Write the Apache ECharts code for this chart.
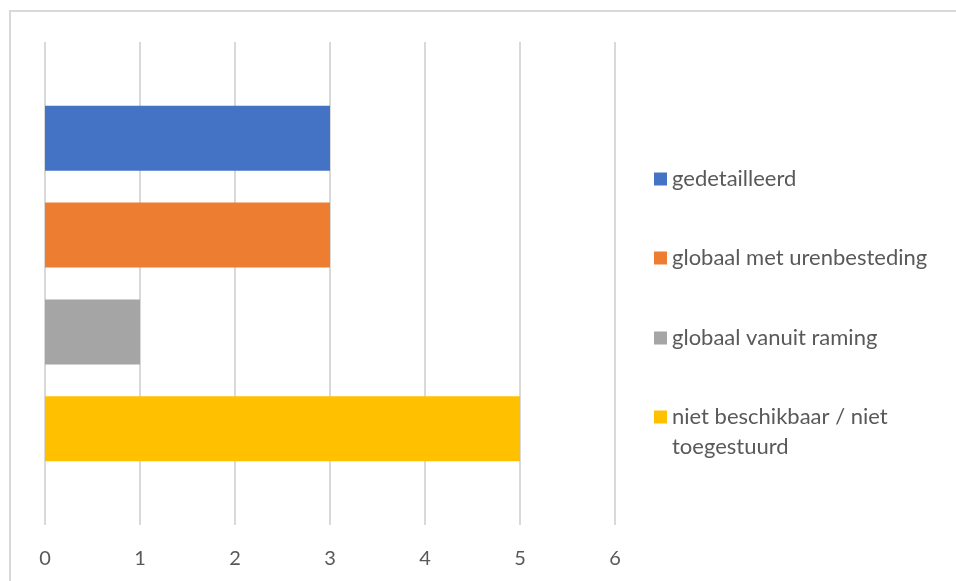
<!DOCTYPE html>
<html>
<head>
<meta charset="utf-8">
<script src="https://cdn.jsdelivr.net/npm/echarts@6/dist/echarts.min.js"></script>
<style>
  html, body { margin: 0; padding: 0; background: #ffffff; }
  #chart { width: 956px; height: 581px; }
</style>
</head>
<body>
<div id="chart"></div>
<script>
// Verdeling van de aangeleverde urenverantwoording (aantal)
const categories = ['gedetailleerd', 'globaal met urenbesteding', 'globaal vanuit raming', 'niet beschikbaar / niet toegestuurd'];
const values = [3, 3, 1, 5];
const colors = ['#4472C4', '#ED7D31', '#A5A5A5', '#FFC000'];
const xTicks = [0, 1, 2, 3, 4, 5, 6];

const FONT = 'Lato';
const TEXT_GREY = '#595959';
const GRID_GREY = '#d9d9d9';

// one legend block per series so each entry sits on its own row
const legendCentres = [179, 258, 338, 417];

const chart = echarts.init(document.getElementById('chart'));

const series = categories.map((name, i) => ({
  type: 'bar',
  name: name,
  data: [values[i]],
  barWidth: 65,
  barGap: '49%',
  itemStyle: { color: colors[i] },
  emphasis: { disabled: true }
}));

// the long label wraps; a leading blank line keeps its first line level with the swatch
const wrapLabel = n => n === 'niet beschikbaar / niet toegestuurd' ? '\nniet beschikbaar / niet\ntoegestuurd' : n;

const legends = categories.map((name, i) => {
  const wrapped = i === 3;
  return {
    data: [name],
    orient: 'vertical',
    left: 654,
    top: wrapped ? legendCentres[i] - 45 : legendCentres[i] - 15,
    padding: 0,
    icon: 'rect',
    itemWidth: 13,
    itemHeight: 13,
    selectedMode: false,
    formatter: wrapLabel,
    textStyle: {
      fontFamily: FONT,
      fontSize: 22,
      color: TEXT_GREY,
      lineHeight: 30
    }
  };
});

chart.setOption({
  backgroundColor: '#ffffff',
  animation: false,
  graphic: [{
    type: 'rect',
    z: -10,
    shape: { x: 10, y: 11, width: 1200, height: 800 },
    style: { fill: 'none', stroke: GRID_GREY, lineWidth: 2 }
  }],
  legend: legends,
  grid: { left: 45, right: 341, top: 42, bottom: 56, containLabel: false },
  xAxis: {
    type: 'value',
    min: xTicks[0],
    max: xTicks[xTicks.length - 1],
    interval: 1,
    axisLine: { show: false },
    axisTick: { show: false },
    splitLine: { show: true, lineStyle: { color: GRID_GREY, width: 2 } },
    axisLabel: { color: TEXT_GREY, fontFamily: FONT, fontSize: 20, margin: 24 }
  },
  yAxis: {
    type: 'category',
    data: [''],
    inverse: true,
    axisLine: { show: false },
    axisTick: { show: false },
    axisLabel: { show: false },
    splitLine: { show: false }
  },
  series: series
});
</script>
</body>
</html>
